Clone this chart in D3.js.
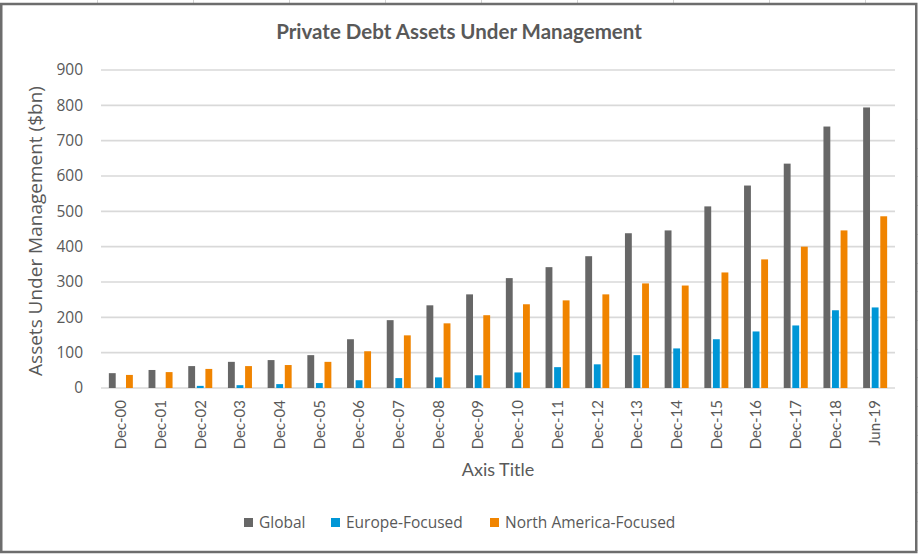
<!DOCTYPE html>
<html>
<head>
<meta charset="utf-8">
<script src="https://cdn.jsdelivr.net/npm/d3@7"></script>
<style>
    body { margin: 0; background: #ffffff; }
    svg { display: block; }
</style>
</head>
<body>
<svg id="chart"></svg>
<script>
var categories = ["Dec-00", "Dec-01", "Dec-02", "Dec-03", "Dec-04", "Dec-05", "Dec-06", "Dec-07", "Dec-08", "Dec-09",
    "Dec-10", "Dec-11", "Dec-12", "Dec-13", "Dec-14", "Dec-15", "Dec-16", "Dec-17", "Dec-18", "Jun-19"]
var globalValues = [42, 51, 62, 74, 79, 93, 138, 192, 234, 265, 311, 342, 373, 438, 446, 514, 573, 635, 740, 794]
var europeValues = [0, 0, 6, 8, 11, 14, 22, 28, 30, 36, 44, 59, 67, 93, 112, 138, 160, 177, 220, 228]
var northAmericaValues = [37, 45, 54, 62, 65, 74, 104, 149, 183, 206, 237, 248, 265, 296, 290, 327, 364, 400, 446, 486]
var seriesNames = ["Global", "Europe-Focused", "North America-Focused"]
var yTicks = [0, 100, 200, 300, 400, 500, 600, 700, 800, 900]

var colors = ["#676767", "#0096d6", "#f08400"]
var textColor = "#595959"
var segoe = "'Open Sans', sans-serif"
var calibri = "Lato, sans-serif"

var dimensions = {
    width: 918,
    height: 554,
    margin: { top: 70, bottom: 166, left: 101, right: 23 }
}

var svg = d3.select("#chart")
    .attr("width", dimensions.width)
    .attr("height", dimensions.height)

// spreadsheet cells peeking out around the chart
var sheet = svg.append("g").attr("stroke", "#d4d4d4").attr("stroke-width", 1)
d3.range(97, 918, 96).forEach(function (x) {
    sheet.append("line").attr("x1", x + 0.5).attr("x2", x + 0.5).attr("y1", 0).attr("y2", 3)
})
d3.range(119, 554, 28.7).forEach(function (y) {
    sheet.append("line").attr("x1", 917).attr("x2", 918).attr("y1", Math.round(y) + 0.5).attr("y2", Math.round(y) + 0.5)
})

// chart border
svg.append("rect")
    .attr("x", 1.25)
    .attr("y", 4)
    .attr("width", 915)
    .attr("height", 548)
    .attr("fill", "#ffffff")
    .attr("stroke", "#6d6d6d")
    .attr("stroke-width", 2.5)

var xScale = d3.scaleBand()
    .domain(categories)
    .range([dimensions.margin.left, dimensions.width - dimensions.margin.right])
    .padding(0)

var clusterWidth = 24
var innerScale = d3.scaleBand()
    .domain(seriesNames)
    .range([0, clusterWidth])
    .paddingInner(0.2)

var yScale = d3.scaleLinear()
    .domain([0, 900])
    .range([dimensions.height - dimensions.margin.bottom, dimensions.margin.top])

// gridlines
svg.append("g")
    .selectAll("line")
    .data(yTicks)
    .enter()
    .append("line")
    .attr("x1", dimensions.margin.left)
    .attr("x2", dimensions.width - dimensions.margin.right)
    .attr("y1", d => yScale(d))
    .attr("y2", d => yScale(d))
    .attr("stroke", "#d9d9d9")
    .attr("stroke-width", 1.6)

// y axis labels
var yAxis = d3.axisLeft(yScale)
    .tickValues(yTicks)
    .tickSize(0)
    .tickPadding(18)

var yAxisGroup = svg.append("g")
    .attr("transform", "translate(" + dimensions.margin.left + ",0)")
    .call(yAxis)
yAxisGroup.select(".domain").remove()
yAxisGroup.selectAll("text")
    .attr("fill", textColor)
    .attr("font-family", segoe)
    .attr("font-size", "15.5px")

// x axis labels
var xAxis = d3.axisBottom(xScale).tickSize(0).tickPadding(0)
var xAxisGroup = svg.append("g")
    .attr("transform", "translate(0," + yScale(0) + ")")
    .call(xAxis)
xAxisGroup.select(".domain").remove()
xAxisGroup.selectAll("text")
    .attr("fill", textColor)
    .attr("font-family", calibri)
    .attr("font-size", "15px")
    .attr("text-anchor", "end")
    .attr("transform", "rotate(-90)")
    .attr("x", -12)
    .attr("y", 0)
    .attr("dy", "0.35em")

// bars
var series = [globalValues, europeValues, northAmericaValues].map(function (values, i) {
    return { name: seriesNames[i], color: colors[i], values: values }
})
var offset = (xScale.bandwidth() - clusterWidth) / 2

series.forEach(function (s) {
    svg.append("g")
        .selectAll("rect")
        .data(s.values)
        .enter()
        .append("rect")
        .attr("x", (d, i) => xScale(categories[i]) + offset + innerScale(s.name))
        .attr("y", d => yScale(d))
        .attr("width", innerScale.bandwidth())
        .attr("height", d => yScale(0) - yScale(d))
        .attr("fill", s.color)
})

// titles
svg.append("text")
    .attr("x", 459)
    .attr("y", 39)
    .attr("text-anchor", "middle")
    .attr("font-family", calibri)
    .attr("font-weight", "bold")
    .attr("font-size", "20.5px")
    .attr("fill", textColor)
    .text("Private Debt Assets Under Management")

svg.append("text")
    .attr("x", 498)
    .attr("y", 476)
    .attr("text-anchor", "middle")
    .attr("font-family", calibri)
    .attr("font-size", "18px")
    .attr("fill", textColor)
    .text("Axis Title")

svg.append("text")
    .attr("transform", "translate(42,231) rotate(-90)")
    .attr("text-anchor", "middle")
    .attr("font-family", segoe)
    .attr("font-size", "19px")
    .attr("fill", textColor)
    .text("Assets Under Management ($bn)")

// legend
var legendItems = [
    { name: seriesNames[0], color: colors[0], x: 244 },
    { name: seriesNames[1], color: colors[1], x: 331 },
    { name: seriesNames[2], color: colors[2], x: 490 }
]
var legend = svg.append("g")
legendItems.forEach(function (d) {
    legend.append("rect")
        .attr("x", d.x)
        .attr("y", 518)
        .attr("width", 9)
        .attr("height", 9)
        .attr("fill", d.color)
    legend.append("text")
        .attr("x", d.x + 15)
        .attr("y", 528)
        .attr("font-family", segoe)
        .attr("font-size", "15.5px")
        .attr("fill", textColor)
        .text(d.name)
})
</script>
</body>
</html>
